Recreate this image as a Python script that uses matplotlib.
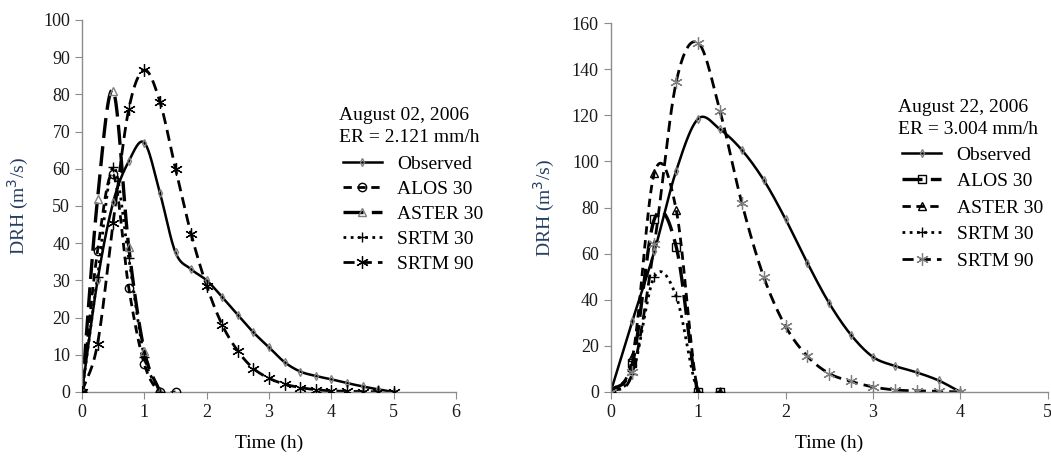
import numpy as np
import matplotlib
matplotlib.use("Agg")
import matplotlib.pyplot as plt
from matplotlib.lines import Line2D

plt.rcParams["font.family"] = ["Liberation Serif", "DejaVu Serif"]

# ---- August 02, 2006 ----
t_left_long = [0, 0.25, 0.5, 0.75, 1.0, 1.25, 1.5, 1.75, 2.0, 2.25, 2.5,
               2.75, 3.0, 3.25, 3.5, 3.75, 4.0, 4.25, 4.5, 4.75, 5.0]
obs_left = [0, 30, 51, 62, 67, 53.5, 37.5, 33, 30, 25.5, 20.7,
            16, 12, 8, 5.5, 4.3, 3.4, 2.4, 1.5, 0.7, 0]
srtm90_left = [0, 13, 45.5, 76, 86.5, 78, 60, 42.5, 28.5, 18, 11,
               6.3, 3.7, 2.1, 1.2, 0.6, 0.3, 0.2, 0.1, 0.05, 0]
t_alos_left = [0, 0.25, 0.5, 0.75, 1.0, 1.25, 1.5]
alos_left = [0, 38, 58.5, 28, 7.5, 0, 0]
t_short_left = [0, 0.25, 0.5, 0.75, 1.0, 1.25]
aster_left = [0, 52, 81, 39, 11, 0]
srtm30_left = [0, 31, 60.5, 36, 9.5, 0]

# ---- August 22, 2006 ----
t_right_long = [0, 0.25, 0.5, 0.75, 1.0, 1.25, 1.5, 1.75, 2.0,
                2.25, 2.5, 2.75, 3.0, 3.25, 3.5, 3.75, 4.0]
obs_right = [0, 31, 61, 96, 118.5, 114, 105, 92, 75,
             56, 38.5, 24.7, 15.2, 11.3, 8.5, 5, 0]
srtm90_right = [0, 8.5, 64, 134.5, 151.5, 122, 82, 50, 28.5,
                15.5, 8, 4.6, 2.2, 0.9, 0.5, 0.3, 0]
t_short_right = [0, 0.25, 0.5, 0.75, 1.0, 1.25]
alos_right = [0, 12.5, 75, 63, 0, 0]
aster_right = [0, 15, 95, 79, 0, 0]
srtm30_right = [0, 8, 50, 41.5, 0, 0]

labels = ["Observed", "ALOS 30", "ASTER 30", "SRTM 30", "SRTM 90"]

SPINE = "#8c8c8c"
YLAB = "#243f60"
OBS_GREY = "#7f7f7f"
FS = 14


def smooth(x, y, n=24):
    # catmull-rom through the points, like excel's "smoothed line"
    x = np.asarray(x, float)
    y = np.asarray(y, float)
    px = np.concatenate([[2 * x[0] - x[1]], x, [2 * x[-1] - x[-2]]])
    py = np.concatenate([[2 * y[0] - y[1]], y, [2 * y[-1] - y[-2]]])
    s = np.linspace(0, 1, n)
    h00 = 2 * s**3 - 3 * s**2 + 1
    h10 = s**3 - 2 * s**2 + s
    h01 = -2 * s**3 + 3 * s**2
    h11 = s**3 - s**2
    xs, ys = [], []
    for i in range(1, len(px) - 2):
        mx0 = (px[i + 1] - px[i - 1]) / 2
        mx1 = (px[i + 2] - px[i]) / 2
        my0 = (py[i + 1] - py[i - 1]) / 2
        my1 = (py[i + 2] - py[i]) / 2
        xs.append(h00 * px[i] + h10 * mx0 + h01 * px[i + 1] + h11 * mx1)
        ys.append(h00 * py[i] + h10 * my0 + h01 * py[i + 1] + h11 * my1)
    return np.concatenate(xs), np.concatenate(ys)


def series(ax, x, y, ls, lw, marker, ms, mcolor, mew=1.0):
    sx, sy = smooth(x, y)
    ax.plot(sx, sy, color="black", lw=lw, linestyle=ls, zorder=2)
    ax.plot(x, y, linestyle="none", marker=marker, ms=ms, mfc="none",
            mec=mcolor, mew=mew, zorder=3)
    return Line2D([], [], color="black", lw=lw, linestyle=ls, marker=marker,
                  ms=ms, mfc="none", mec=mcolor, mew=mew)


def style_axes(ax, ymax, ystep, xmax, ypad):
    ax.set_xlim(0, xmax)
    ax.set_ylim(0, ymax)
    ax.set_yticks(np.arange(0, ymax + 1, ystep))
    ax.set_xticks(np.arange(0, xmax + 1, 1))
    for side in ["top", "right"]:
        ax.spines[side].set_visible(False)
    for side in ["left", "bottom"]:
        ax.spines[side].set_color(SPINE)
        ax.spines[side].set_linewidth(1.0)
    ax.tick_params(direction="out", length=5, color=SPINE, labelsize=13,
                   labelcolor="#1a1a1a")
    ax.set_xlabel("Time (h)", fontsize=FS, labelpad=10)
    ax.set_ylabel("DRH (m$^3$/s)", fontsize=FS, color=YLAB, labelpad=ypad)
    for lab in ax.get_xticklabels() + ax.get_yticklabels():
        lab.set_clip_on(False)


def add_key(fig, handles, x_text, x_key, y_head, y_top, spacing, head):
    fig.text(x_text, y_head[0], head[0], fontsize=FS, ha="left", va="center")
    fig.text(x_text, y_head[1], head[1], fontsize=FS, ha="left", va="center")
    fig.legend(handles, labels, loc="upper left", bbox_to_anchor=(x_key, y_top),
               frameon=False, fontsize=FS, handlelength=2.0, handletextpad=0.8,
               labelspacing=spacing, borderpad=0.0, borderaxespad=0.0)


fig = plt.figure(figsize=(10.51, 4.61), dpi=100)
ax1 = fig.add_axes([0.078, 0.1497, 0.356, 0.807])
ax2 = fig.add_axes([0.581, 0.1497, 0.416, 0.80])

sym_ast = (6, 2, 0)

# left panel
h_obs = series(ax1, t_left_long, obs_left, "-", 1.8, "d", 4, OBS_GREY)
h_alos = series(ax1, t_alos_left, alos_left, (0, (3, 2)), 2.0, "o", 6, "black")
h_aster = series(ax1, t_short_left, aster_left, (0, (6, 2.5)), 2.4, "^", 6, OBS_GREY)
h_s30 = series(ax1, t_short_left, srtm30_left, (0, (1, 1.6)), 2.0, "+", 7, "black")
h_s90 = series(ax1, t_left_long, srtm90_left, (0, (4, 2.2)), 2.0, sym_ast, 9, "black", 0.9)
style_axes(ax1, 100, 10, 6, 9)
add_key(fig, [h_obs, h_alos, h_aster, h_s30, h_s90], 0.3225, 0.3264,
        (1 - 115 / 461, 1 - 137 / 461), 1 - 155 / 461, 0.38,
        ("August 02, 2006", "ER = 2.121 mm/h"))

# right panel
h_obs2 = series(ax2, t_right_long, obs_right, "-", 1.8, "d", 4, OBS_GREY)
h_alos2 = series(ax2, t_short_right, alos_right, (0, (6, 2.5)), 2.4, "s", 6, "black")
h_aster2 = series(ax2, t_short_right, aster_right, (0, (3, 2)), 2.0, "^", 6, "black")
h_s30b = series(ax2, t_short_right, srtm30_right, (0, (1, 1.6)), 2.0, "+", 7, "black")
h_s90b = series(ax2, t_right_long, srtm90_right, (0, (4, 2.2)), 2.0, sym_ast, 9, OBS_GREY, 0.9)
style_axes(ax2, 160, 20, 5, 11)
add_key(fig, [h_obs2, h_alos2, h_aster2, h_s30b, h_s90b], 0.854, 0.8583,
        (1 - 107 / 461, 1 - 129 / 461), 1 - 146 / 461, 0.46,
        ("August 22, 2006", "ER = 3.004 mm/h"))

fig.savefig("out.png", dpi=100)
